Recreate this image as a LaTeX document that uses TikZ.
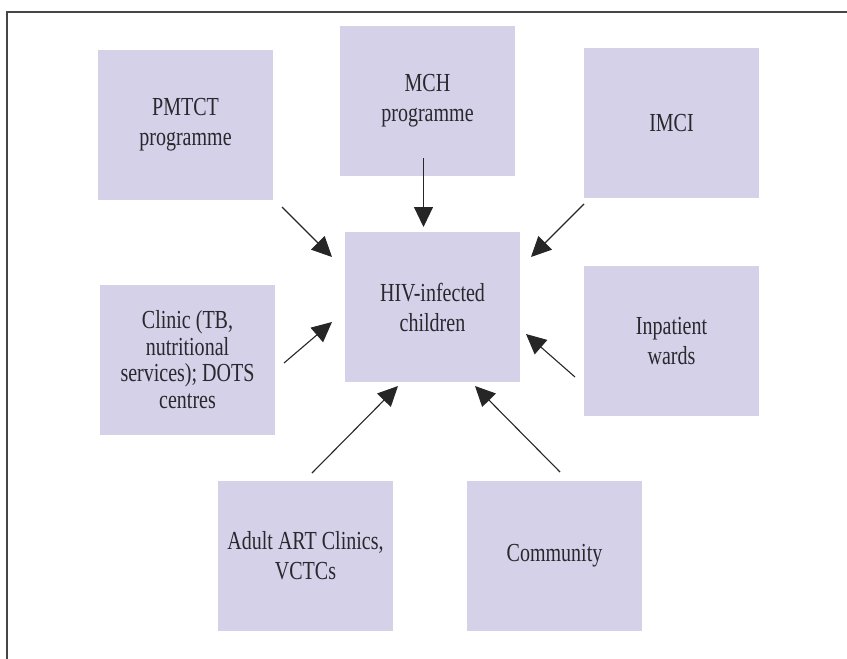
\documentclass[tikz,border=0pt]{standalone}
\usepackage{fontspec}
\setmainfont[FakeStretch=0.77]{Liberation Serif}
\usetikzlibrary{arrows.meta}
\definecolor{boxfill}{RGB}{212,209,233}
\definecolor{txt}{RGB}{40,40,45}
\definecolor{frame}{RGB}{70,70,70}
\tikzset{
  pbox/.style={fill=boxfill, draw=none, minimum width=175pt, minimum height=150pt,
    inner sep=0pt, align=center, text=txt,
    font=\fontsize{26pt}{30pt}\selectfont},
  pboxfour/.style={pbox, font=\fontsize{26pt}{26.5pt}\selectfont},
  conn/.style={line width=1.1pt, draw=black!85, -{Triangle[length=20pt,width=19pt]}}
}
\begin{document}
\begin{tikzpicture}[x=1pt,y=-1pt]
\useasboundingbox (0,0) rectangle (847,659);
\draw[frame, line width=1.5pt] (7,659) -- (7,12) -- (847,12);
% boxes
\node[pbox] (pmtct) at (185.5,125) {PMTCT\\programme};
\node[pbox] (mch) at (427.5,101) {MCH\\programme};
\node[pbox] (imci) at (671.5,123) {IMCI};
\node[pbox] (hiv) at (432.5,307) {HIV-infected\\children};
\node[pboxfour] (clinic) at (187.5,359.5) {Clinic (TB,\\nutritional\\services); DOTS\\centres};
\node[pbox] (inpat) at (671.5,341) {Inpatient\\wards};
\node[pbox] (adult) at (305.5,556) {Adult ART Clinics,\\VCTCs};
\node[pbox] (comm) at (554.5,556) {Community};
% connector end points
\coordinate (pmtctS) at (282,207);  \coordinate (pmtctE) at (332,257);
\coordinate (mchS) at (423.5,158);  \coordinate (mchE) at (423.5,227);
\coordinate (imciS) at (584,204);   \coordinate (imciE) at (531,257);
\coordinate (clinicS) at (284,363); \coordinate (clinicE) at (332,322);
\coordinate (inpatS) at (575,377);  \coordinate (inpatE) at (526,334);
\coordinate (adultS) at (312,473);  \coordinate (adultE) at (398,386);
\coordinate (commS) at (560,472);   \coordinate (commE) at (475,386);
% connectors
\draw[conn] (pmtctS) -- (pmtctE);
\draw[conn] (mchS) -- (mchE);
\draw[conn] (imciS) -- (imciE);
\draw[conn] (clinicS) -- (clinicE);
\draw[conn] (inpatS) -- (inpatE);
\draw[conn] (adultS) -- (adultE);
\draw[conn] (commS) -- (commE);
\end{tikzpicture}
\end{document}
